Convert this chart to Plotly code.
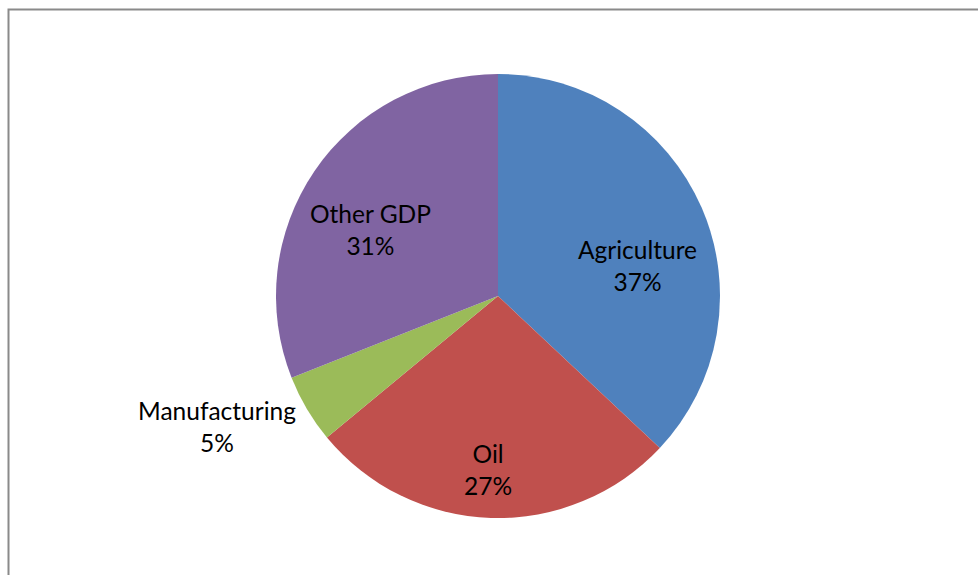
import plotly.graph_objects as go

# GDP composition by sector
sectors = ["Agriculture", "Oil", "Manufacturing", "Other GDP"]
shares = [37, 27, 5, 31]
colors = ["#4F81BD", "#C0504D", "#9BBB59", "#8064A2"]

# label anchor points (paper pixels: x from left, y from top)
label_px = [(637, 265), (488, 469), (217, 426), (370, 229)]

W, H = 978, 575
cx, cy, r = 498, 296, 222

fig = go.Figure(
    go.Pie(
        labels=sectors,
        values=shares,
        marker=dict(colors=colors, line=dict(width=0)),
        sort=False,
        direction="clockwise",
        rotation=0,
        textinfo="none",
        hoverinfo="label+percent",
        showlegend=False,
        domain=dict(
            x=[(cx - r) / W, (cx + r) / W],
            y=[(H - cy - r) / H, (H - cy + r) / H],
        ),
    )
)

total = sum(shares)
annotations = []
for name, val, (px, py) in zip(sectors, shares, label_px):
    annotations.append(
        dict(
            x=px / W,
            y=1 - py / H,
            xref="paper",
            yref="paper",
            text=f"{name}<br>{round(100 * val / total)}%",
            showarrow=False,
            xanchor="center",
            yanchor="middle",
            align="center",
            font=dict(family="Lato", size=24.5, color="#000000"),
        )
    )

fig.update_layout(
    width=W,
    height=H,
    margin=dict(l=0, r=0, t=0, b=0),
    paper_bgcolor="white",
    plot_bgcolor="white",
    annotations=annotations,
    shapes=[
        dict(
            type="rect",
            xref="paper",
            yref="paper",
            x0=8.5 / W,
            x1=1.05,
            y0=-0.05,
            y1=1 - 9.5 / H,
            line=dict(color="#8a8a8a", width=2),
            fillcolor="rgba(0,0,0,0)",
            layer="below",
        )
    ],
)

fig.write_html("out.html")
